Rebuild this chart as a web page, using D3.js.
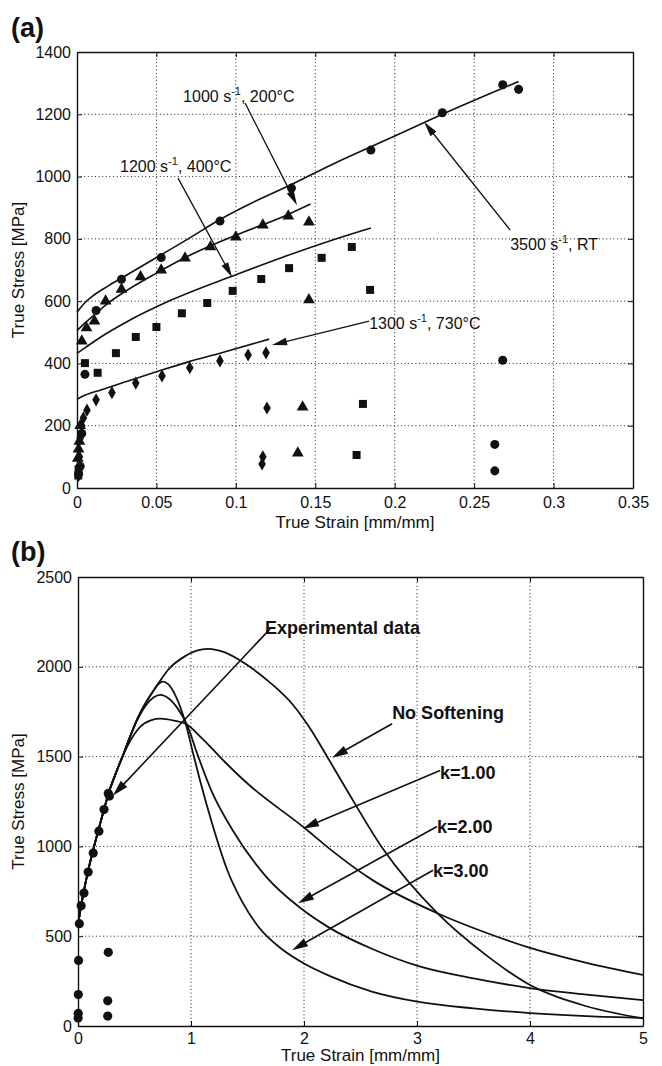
<!DOCTYPE html>
<html>
<head>
<meta charset="utf-8">
<script src="https://cdn.jsdelivr.net/npm/d3@7"></script>
<style>
body { margin: 0; background: #fff; }
text { font-family: "Liberation Sans", Arial, Helvetica, sans-serif; fill: #111; }
</style>
</head>
<body>
<svg id="chart" width="662" height="1066"></svg>
<script>
// ---------- panel (a) : [true strain, true stress] ----------
var strainTicksA = [0, 0.05, 0.1, 0.15, 0.2, 0.25, 0.3, 0.35];
var stressTicksA = [0, 200, 400, 600, 800, 1000, 1200, 1400];

// experimental points (3500 s-1 RT = circles, 1000/200C = triangles, 1200/400C = squares, 1300/730C = diamonds)
var rt3500 = [[0.001,45],[0.002,70],[0.003,175],[0.005,365],[0.012,570],[0.028,670],[0.053,740],[0.09,857],
  [0.135,963],[0.185,1085],[0.23,1205],[0.268,1295],[0.278,1280],[0.268,410],[0.263,140],[0.263,55]];
var t200 = [[0.0005,95],[0.001,125],[0.0015,150],[0.002,200],[0.003,472],[0.006,514],[0.011,536],[0.018,600],
  [0.028,638],[0.04,678],[0.053,700],[0.068,738],[0.084,774],[0.1,806],[0.117,844],[0.133,873],[0.146,854],
  [0.146,604],[0.142,260],[0.139,112]];
var t400 = [[0.0008,40],[0.001,60],[0.005,401],[0.013,370],[0.0245,433],[0.037,485],[0.05,517],[0.066,561],
  [0.082,594],[0.098,633],[0.116,671],[0.1335,706],[0.154,739],[0.173,774],[0.1845,636],[0.18,270],[0.176,106]];
var t730 = [[0.001,40],[0.0015,100],[0.002,160],[0.003,200],[0.004,225],[0.0063,250],[0.012,283],[0.022,306],
  [0.037,337],[0.0535,360],[0.071,386],[0.09,408],[0.1077,427],[0.119,434],[0.1196,257],[0.117,100],[0.1165,77]];

// model curves
var fitRT = [[0,565],[0.005,595],[0.01,617],[0.02,650],[0.03,680],[0.05,740],[0.07,800],[0.09,862],[0.11,915],
  [0.134,972],[0.159,1035],[0.2,1130],[0.23,1200],[0.278,1305]];
var fit200 = [[0,505],[0.005,530],[0.01,552],[0.02,595],[0.03,630],[0.05,690],[0.07,745],[0.1,812],[0.13,872],[0.147,912]];
var fit400 = [[0,432],[0.005,450],[0.015,485],[0.03,530],[0.06,605],[0.1,685],[0.13,742],[0.16,795],[0.185,835]];
var fit730 = [[0,285],[0.005,298],[0.015,315],[0.03,340],[0.05,373],[0.07,405],[0.09,433],[0.121,478]];

// ---------- panel (b) ----------
var strainTicksB = [0, 1, 2, 3, 4, 5];
var stressTicksB = [0, 500, 1000, 1500, 2000, 2500];

var noSoft = [[0,565],[0.05,745],[0.09,865],[0.13,970],[0.18,1090],[0.23,1205],[0.27,1295],[0.33,1400],[0.39,1494],
  [0.46,1610],[0.53,1717],[0.6,1800],[0.65,1850],[0.73,1925],[0.8,1985],[0.95,2060],[1.05,2090],[1.15,2100],
  [1.3,2080],[1.46,2025],[1.7,1912],[1.9,1790],[2.05,1660],[2.2,1505],[2.35,1345],[2.7,985],[3.18,628],
  [3.6,400],[4.0,228],[4.5,110],[5.0,42]];
var k1 = [[0,565],[0.05,745],[0.09,865],[0.13,970],[0.18,1090],[0.23,1205],[0.27,1295],[0.33,1400],[0.39,1494],
  [0.46,1585],[0.55,1665],[0.65,1703],[0.73,1711],[0.85,1700],[0.96,1680],[1.1,1600],[1.3,1470],[1.5,1350],
  [2.0,1105],[2.23,985],[2.6,815],[3.18,628],[3.6,522],[4.0,435],[4.5,352],[5.0,285]];
var k2 = [[0,565],[0.05,745],[0.09,865],[0.13,970],[0.18,1090],[0.23,1205],[0.27,1295],[0.33,1400],[0.39,1494],
  [0.46,1610],[0.53,1710],[0.6,1785],[0.67,1830],[0.73,1844],[0.8,1825],[0.88,1770],[0.97,1670],[1.05,1525],
  [1.18,1311],[1.37,1089],[1.67,828],[1.96,661],[2.23,545],[2.6,430],[3.03,330],[3.5,265],[4.0,211],[4.5,175],[5.0,144]];
var k3 = [[0,565],[0.05,745],[0.09,865],[0.13,970],[0.18,1090],[0.23,1205],[0.27,1295],[0.33,1400],[0.39,1494],
  [0.46,1610],[0.53,1717],[0.6,1800],[0.65,1850],[0.7,1895],[0.75,1917],[0.8,1902],[0.87,1830],[0.95,1690],
  [1.02,1515],[1.08,1367],[1.2,1100],[1.32,870],[1.45,695],[1.6,550],[1.8,430],[2.0,348],[2.23,278],[2.6,192],
  [3.03,133],[3.5,98],[4.0,72],[4.5,55],[5.0,45]];

// annotation placement, in data units: label anchor, arrow start, arrow tip
var notesA = [
  {rate: "1000", rest: "200°C", at: [0.0668,1239], from: [0.1058,1236], tip: [0.1385,908]},
  {rate: "1200", rest: "400°C", at: [0.0271,1014], from: [0.0636,995], tip: [0.0976,677]},
  {rate: "3500", rest: "RT", at: [0.2727,764], from: [0.2727,828], tip: [0.2185,1175]},
  {rate: "1300", rest: "730°C", at: [0.1839,510], from: [0.1839,536], tip: [0.1228,459]}
];
var notesB = [
  {label: "Experimental data", at: [1.655,2183], from: [1.70,2211], tip: [0.31,1283]},
  {label: "No Softening", at: [2.78,1711], from: [2.78,1683], tip: [2.248,1494]},
  {label: "k=1.00", at: [3.204,1378], from: [3.204,1422], tip: [1.99,1100]},
  {label: "k=2.00", at: [3.177,1072], from: [3.177,1111], tip: [1.947,683]},
  {label: "k=3.00", at: [3.142,828], from: [3.142,867], tip: [1.894,422]}
];

var svg = d3.select("#chart");

function frame(x, y, xt, yt, xLabel, yLabel, pad, labelGap) {
    var g = svg.append("g");
    var x0 = x.range()[0], x1 = x.range()[1], y0 = y.range()[0], y1 = y.range()[1];

    // dotted grid
    g.selectAll(".gx").data(xt.slice(1, -1)).enter().append("line")
        .attr("x1", d => x(d)).attr("x2", d => x(d)).attr("y1", y0).attr("y2", y1)
        .attr("stroke", "#222").attr("stroke-width", 1).attr("stroke-dasharray", "1,2.6");
    g.selectAll(".gy").data(yt.slice(1, -1)).enter().append("line")
        .attr("y1", d => y(d)).attr("y2", d => y(d)).attr("x1", x0).attr("x2", x1)
        .attr("stroke", "#222").attr("stroke-width", 1).attr("stroke-dasharray", "1,2.6");

    var fmt = d => String(d);
    g.append("g").attr("transform", "translate(0," + y0 + ")")
        .call(d3.axisBottom(x).tickValues(xt).tickFormat(fmt).tickSizeInner(-5).tickSizeOuter(0).tickPadding(pad));
    g.append("g").attr("transform", "translate(" + x0 + ",0)")
        .call(d3.axisLeft(y).tickValues(yt).tickFormat(fmt).tickSizeInner(-5).tickSizeOuter(0).tickPadding(6));
    g.append("g").attr("transform", "translate(0," + y1 + ")")
        .call(d3.axisTop(x).tickValues(xt).tickFormat("").tickSizeInner(-5).tickSizeOuter(0));
    g.append("g").attr("transform", "translate(" + x1 + ",0)")
        .call(d3.axisRight(y).tickValues(yt).tickFormat("").tickSizeInner(-5).tickSizeOuter(0));

    g.selectAll(".domain").attr("stroke", "#111").attr("stroke-width", 1.4);
    g.selectAll(".tick line").attr("stroke", "#111");
    g.selectAll(".tick text").attr("font-size", 16).attr("fill", "#111")
        .attr("font-family", "Liberation Sans, Arial, sans-serif");

    g.append("text").attr("x", (x0 + x1) / 2).attr("y", y0 + labelGap)
        .attr("text-anchor", "middle").attr("font-size", 17).text(xLabel);
    g.append("text").attr("transform", "translate(24," + (y0 + y1) / 2 + ") rotate(-90)")
        .attr("text-anchor", "middle").attr("font-size", 17).text(yLabel);
}

function arrow(g, p0, p1, len, hw, sw) {
    var dx = p1[0] - p0[0], dy = p1[1] - p0[1], L = Math.sqrt(dx * dx + dy * dy);
    var ux = dx / L, uy = dy / L;
    var bx = p1[0] - ux * len, by = p1[1] - uy * len;
    g.append("line").attr("x1", p0[0]).attr("y1", p0[1]).attr("x2", bx + ux * 2).attr("y2", by + uy * 2)
        .attr("stroke", "#111").attr("stroke-width", sw);
    g.append("path")
        .attr("d", "M" + p1[0] + "," + p1[1] + "L" + (bx - uy * hw) + "," + (by + ux * hw) +
                   "L" + (bx + uy * hw) + "," + (by - ux * hw) + "Z")
        .attr("fill", "#111");
}

// ===== panel (a) =====
var xa = d3.scaleLinear().domain([0, 0.35]).range([77, 633]);
var ya = d3.scaleLinear().domain([0, 1400]).range([488, 52]);

svg.append("text").attr("x", 11).attr("y", 37).attr("font-size", 27).attr("font-weight", "bold").text("(a)");
frame(xa, ya, strainTicksA, stressTicksA, "True Strain [mm/mm]", "True Stress [MPa]", 9, 40);

var lineA = d3.line().x(d => xa(d[0])).y(d => ya(d[1])).curve(d3.curveMonotoneX);
var ga = svg.append("g");
[fitRT, fit200, fit400, fit730].forEach(function(s) {
    ga.append("path").attr("d", lineA(s)).attr("fill", "none").attr("stroke", "#111").attr("stroke-width", 1.6);
});

var markerSets = [
    {data: rt3500, type: d3.symbolCircle, size: 64},
    {data: t200, type: d3.symbolTriangle, size: 60},
    {data: t400, type: d3.symbolSquare, size: 64},
    {data: t730, type: d3.symbolDiamond, size: 50}
];
markerSets.forEach(function(m) {
    ga.selectAll(null).data(m.data).enter().append("path")
        .attr("transform", d => "translate(" + xa(d[0]) + "," + ya(d[1]) + ")")
        .attr("d", d3.symbol().type(m.type).size(m.size))
        .attr("fill", "#111");
});

notesA.forEach(function(n) {
    arrow(ga, [xa(n.from[0]), ya(n.from[1])], [xa(n.tip[0]), ya(n.tip[1])], 15, 3.8, 1.3);
    var t = ga.append("text").attr("x", xa(n.at[0])).attr("y", ya(n.at[1])).attr("font-size", 16);
    t.append("tspan").text(n.rate + " s");
    t.append("tspan").attr("dy", -7).attr("font-size", 11).text("-1");
    t.append("tspan").attr("dy", 7).text(", " + n.rest);
});

// ===== panel (b) =====
var xb = d3.scaleLinear().domain([0, 5]).range([78, 643]);
var yb = d3.scaleLinear().domain([0, 2500]).range([1026, 577]);

svg.append("text").attr("x", 11).attr("y", 561).attr("font-size", 27).attr("font-weight", "bold").text("(b)");
frame(xb, yb, strainTicksB, stressTicksB, "True Strain [mm/mm]", "True Stress [MPa]", 7, 35);

var lineB = d3.line().x(d => xb(d[0])).y(d => yb(d[1])).curve(d3.curveMonotoneX);
var gb = svg.append("g");
[noSoft, k1, k2, k3].forEach(function(s) {
    gb.append("path").attr("d", lineB(s)).attr("fill", "none").attr("stroke", "#111").attr("stroke-width", 1.8);
});
gb.selectAll(null).data(rt3500).enter().append("circle")
    .attr("cx", d => xb(d[0])).attr("cy", d => yb(d[1])).attr("r", 4.6).attr("fill", "#111");

notesB.forEach(function(n) {
    arrow(gb, [xb(n.from[0]), yb(n.from[1])], [xb(n.tip[0]), yb(n.tip[1])], 16, 4.5, 1.6);
    gb.append("text").attr("x", xb(n.at[0])).attr("y", yb(n.at[1]))
        .attr("font-size", 18).attr("font-weight", "bold").text(n.label);
});
</script>
</body>
</html>
